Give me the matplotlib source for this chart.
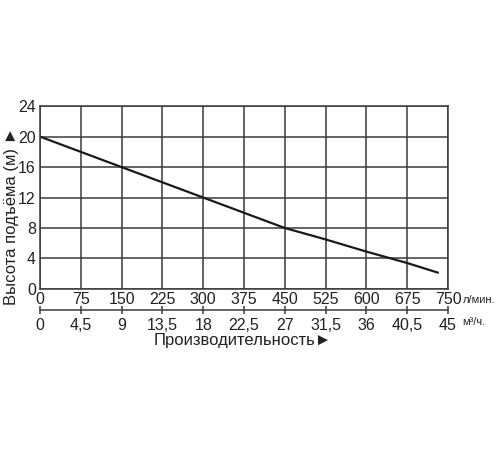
import matplotlib
matplotlib.use("Agg")
import matplotlib.pyplot as plt

flow_lpm = [0, 75, 150, 225, 300, 375, 450, 525, 600, 675, 733]
head_m = [20, 18, 16, 14, 12, 10, 8, 6.5, 4.9, 3.4, 2.1]

lpm_ticks = [0, 75, 150, 225, 300, 375, 450, 525, 600, 675, 750]
m3h_labels = ["0", "4,5", "9", "13,5", "18", "22,5", "27", "31,5", "36", "40,5", "45"]
y_ticks = [0, 4, 8, 12, 16, 20, 24]

plt.rcParams['font.family'] = ['Liberation Sans', 'DejaVu Sans']

fig = plt.figure(figsize=(5, 4.5), dpi=100)
ax = fig.add_axes([0.08, 0.358, 0.816, 0.406])

ax.plot(flow_lpm, head_m, color="#1a1a1a", lw=1.6, solid_capstyle="butt")
ax.set_xlim(0, 750)
ax.set_ylim(0, 24)
ax.set_xticks(lpm_ticks)
ax.set_yticks(y_ticks)
ax.set_xticklabels([str(v) for v in lpm_ticks])
ax.grid(True, color="#3a3a3a", lw=1.1)
ax.set_axisbelow(True)
for s in ax.spines.values():
    s.set_color("#3a3a3a")
    s.set_linewidth(1.1)
ax.tick_params(axis="both", length=0, labelsize=11.5, colors="#222222")
ax.tick_params(axis="x", pad=2.5)
ax.tick_params(axis="y", pad=3)

# secondary axis in m3/h
sec = ax.secondary_xaxis(-0.115)
sec.set_xticks(lpm_ticks)
sec.set_xticklabels(m3h_labels)
sec.spines['bottom'].set_color("#3a3a3a")
sec.spines['bottom'].set_linewidth(1.1)
sec.tick_params(axis="x", direction="inout", length=6, width=1.1, color="#3a3a3a",
                labelsize=11.5, labelcolor="#222222", pad=2.5)

fig.text(0.925, 0.333, "л/мин.", fontsize=8, color="#222222", va="center", ha="left")
fig.text(0.925, 0.284, "м³/ч.", fontsize=8, color="#222222", va="center", ha="left")

fig.text(0.486, 0.243, "Производительность►", fontsize=12, color="#222222",
         ha="center", va="center", family=['Liberation Sans', 'DejaVu Sans'])
fig.text(0.024, 0.52, "Высота подъёма (м) ►", fontsize=12, color="#222222",
         ha="center", va="center", rotation=90, family=['Liberation Sans', 'DejaVu Sans'])

fig.savefig("out.png", dpi=100, facecolor="white")
